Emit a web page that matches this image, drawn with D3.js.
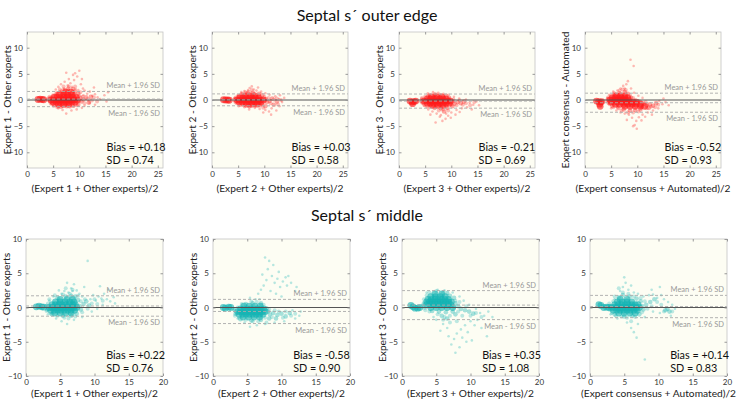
<!DOCTYPE html>
<html><head><meta charset="utf-8">
<script src="https://cdn.jsdelivr.net/npm/d3@7"></script>
<style>body{margin:0;background:#fff;} text{font-family:Lato,"Open Sans",sans-serif;}</style>
</head><body><svg id="c" width="738" height="402"></svg>
<script>
// ---------- data ----------
const rowTitles = ["Septal s\u00B4 outer edge", "Septal s\u00B4 middle"];
const xLabels = ["(Expert 1 + Other experts)/2","(Expert 2 + Other experts)/2","(Expert 3 + Other experts)/2","(Expert consensus + Automated)/2",
                 "(Expert 1 + Other experts)/2","(Expert 2 + Other experts)/2","(Expert 3 + Other experts)/2","(Expert consensus + Automated)/2"];
const yLabels = ["Expert 1 - Other experts","Expert 2 - Other experts","Expert 3 - Other experts","Expert consensus - Automated",
                 "Expert 1 - Other experts","Expert 2 - Other experts","Expert 3 - Other experts",""];
const biasValues = [0.18, 0.03, -0.21, -0.52, 0.22, -0.58, 0.35, 0.14];
const sdValues   = [0.74, 0.58, 0.69, 0.93, 0.76, 0.90, 1.08, 0.83];
const xTicksTop = [0,5,10,15,20,25];
const yTicksTop = [-10,-5,0,5,10];
const xTicksBottom = [0,5,10,15,20];
const yTicksBottom = [-10,-5,0,5,10];
const xDomainTop = [0,26], yDomainTop = [-13,13];
const xDomainBottom = [0,20], yDomainBottom = [-10,10];

// dense core / halo / medium / sparse points [mean, difference]
const p1Core = [[2.1,0.1],[2.5,0.15],[2.9,0.1],[3.2,0.05],
 [4.6,0],[5.1,0],[5.6,0],[6.1,0],[6.6,0],[7.1,0],[7.6,0],[8.1,0],[8.6,0],[9.1,0],[9.6,0],
 [5.2,0.5],[5.8,0.5],[6.4,0.5],[7.0,0.5],[7.6,0.5],[8.2,0.5],[8.8,0.5],[9.4,0.5],
 [5.0,-0.4],[5.6,-0.4],[6.2,-0.4],[6.8,-0.4],[7.4,-0.4],[8.0,-0.4],[8.6,-0.4],[9.2,-0.4],
 [6.2,1.0],[7.0,1.0],[7.8,1.0],[8.6,1.0],[6.0,-0.8],[7.0,-0.8],[8.0,-0.8],[7.4,1.5],[8.4,1.5]];
const p1Halo = [[4.0,0.0],[4.3,0.6],[4.8,-0.7],[5.0,0.9],[5.6,1.3],[6.0,-1.1],[6.9,1.4],[6.9,-1.2],[7.9,1.8],[8.2,-1.3],[9.0,1.2],[9.5,-1.0],[9.9,0.8],[10.0,-0.2],[10.6,0.6],[11.0,-0.6],[11.6,0.2],[12.4,-0.1],[8.0,2.6],[7.0,2.6],[9.2,2.6],[6.3,2.0],[5.8,-1.4],[10.2,1.5],[12.8,0.5],[13.4,-0.3]];
const p1Mid = [[4.2,0.3],[4.4,-0.3],[10.2,0.4],[10.4,-0.3],[10.8,0.1],[11.3,0.5],[9.8,1.2],[9.2,1.6],[8.8,2.1],[7.9,2.2],[7.2,1.9],[6.6,1.6],[5.8,1.2],[5.2,-1.0],[6.5,-1.3],[7.6,-1.2],[8.8,-1.1],[9.8,-0.9],[11.8,-0.5],[12.2,0.6]];
const p1Sparse = [[5.5,2],[6,2.5],[6.5,3],[7,2.2],[7.2,3.5],[7.8,2.8],[8,4],[8.3,3.2],[8.6,2.5],[9,3.8],[9.3,2.1],[9.6,4.5],[10,5.6],[10.3,3],[10.7,2.2],[11,1.8],[11.5,1.2],[12,1.6],[12.5,0.8],[13,1.1],[13.5,0.5],[14,0.2],[14.8,0.9],[15.2,-0.3],[12,-0.6],[11,-1.1],[10.5,-1.5],[9.5,-1.8],[8.5,-2.0],[7.5,-2.6],[6.8,-1.9],[6,-1.6],[5,-1.2],[4.5,-0.8],[9,-1.2],[11.8,-0.2],[13,-0.9],[10.8,0.9],[9.8,1.9],[8.8,4.8],[7.5,5.2],[6.2,1.6],[5.3,1.0],[4.6,0.6],[12.8,2.4],[15.5,1.5],[9.2,5.1],[10.5,4.0]];

const p2Core = [[2.2,0.05],[2.6,0],[3.0,0],[3.3,-0.05],
 [4.8,0],[5.3,0],[5.8,0],[6.3,0],[6.8,0],[7.3,0],[7.8,0],[8.3,0],[8.8,0],[9.3,0],[9.8,0],
 [5.3,0.4],[5.9,0.4],[6.5,0.4],[7.1,0.4],[7.7,0.4],[8.3,0.4],[8.9,0.4],
 [5.2,-0.4],[5.8,-0.4],[6.4,-0.4],[7.0,-0.4],[7.6,-0.4],[8.2,-0.4],[8.8,-0.4],[9.4,-0.4],
 [6.4,0.8],[7.4,0.8],[8.2,0.8],[6.6,-0.8],[7.6,-0.8],[8.6,-0.8]];
const p2Halo = [[4.2,0.0],[4.5,0.5],[4.7,-0.6],[5.1,0.8],[5.8,1.2],[6.0,-1.0],[7.0,1.6],[7.0,-1.1],[8.0,1.2],[8.2,-1.1],[9.0,0.9],[9.6,-0.8],[10.0,0.6],[10.2,-0.1],[10.8,0.4],[11.2,-0.6],[11.8,0.1],[12.4,0.3],[7.6,1.9],[6.4,1.5],[9.8,-1.5],[12.6,-0.8],[13.2,0.0]];
const p2Mid = [[4.4,0.2],[4.5,-0.3],[10.3,0.2],[10.5,-0.4],[11.0,-0.2],[11.5,0.3],[9.6,0.9],[9.0,1.2],[7.8,1.4],[6.8,1.3],[5.6,1.0],[5.4,-0.9],[7.2,-1.2],[9.2,-1.0],[10.2,-1.2],[11.8,-0.9],[12.4,-0.3]];
const p2Sparse = [[7.2,2.3],[7.6,2.6],[8.0,2.0],[6.9,1.9],[8.5,1.8],[9.4,1.6],[10.2,1.3],[11.0,1.0],[6.2,1.7],[5.6,1.5],[4.9,0.9],[12.1,0.7],[12.8,0.2],[13.4,-0.4],[13.8,0.4],[12.9,-1.2],[11.4,-1.6],[10.9,-2.2],[11.3,-2.8],[10.2,-1.9],[9.1,-1.7],[8.2,-1.5],[7.1,-1.8],[6.2,-1.4],[5.1,-1.2],[9.8,-2.4],[12.3,-2.0],[8.8,2.4],[7.3,1.1],[13.0,0.9]];

const p3Core = [[2.1,-0.2],[2.5,-0.4],[2.9,-0.3],[3.2,-0.2],[2.6,-0.7],
 [4.8,-0.2],[5.3,-0.2],[5.8,-0.2],[6.3,-0.2],[6.8,-0.2],[7.3,-0.2],[7.8,-0.2],[8.3,-0.2],[8.8,-0.2],[9.3,-0.2],[9.8,-0.2],
 [5.4,0.2],[6.0,0.2],[6.6,0.2],[7.2,0.2],[7.8,0.2],[8.4,0.2],[9.0,0.2],
 [5.4,-0.6],[6.0,-0.6],[6.6,-0.6],[7.2,-0.6],[7.8,-0.6],[8.4,-0.6],[9.0,-0.6],[9.6,-0.6],
 [6.4,-1.0],[7.4,-1.0],[8.4,-1.0],[6.2,0.6],[7.2,0.6],[8.2,0.6]];
const p3Halo = [[4.2,-0.3],[4.4,0.4],[4.8,-0.9],[5.0,0.6],[5.8,1.0],[6.0,-1.2],[7.0,1.1],[7.0,-1.4],[7.8,1.0],[8.0,-1.3],[9.0,-1.2],[9.6,0.2],[10.0,-0.9],[10.4,0.1],[11.0,-1.0],[11.6,-0.1],[12.2,-0.9],[12.8,-0.6],[8.4,-1.8],[7.6,-2.0],[9.4,-2.0],[13.6,-1.0],[14.4,-0.4]];
const p3Mid = [[4.4,0.1],[4.5,-0.5],[10.3,-0.3],[10.6,-0.7],[11.2,-0.4],[11.8,-0.6],[12.4,-0.3],[9.6,0.4],[9.0,0.8],[6.8,1.0],[5.6,0.7],[5.4,-1.2],[6.8,-1.5],[8.0,-1.6],[9.2,-1.5],[10.2,-1.2],[8.6,-2.2]];
const p3Sparse = [[5.5,1.3],[6.5,1.5],[7.5,1.4],[8.5,1.2],[9.5,1.0],[10.5,0.6],[11.5,0.3],[12.8,0.1],[13.5,-0.5],[14.2,-0.9],[14.8,-0.3],[15.3,-1.0],[13.0,-1.4],[12.0,-1.6],[11.0,-1.9],[10.0,-2.4],[9.4,-3.0],[8.9,-3.6],[8.3,-4.0],[7.8,-3.2],[7.2,-2.6],[6.4,-2.2],[5.6,-1.8],[4.8,-1.1],[9.9,-3.4],[8.0,-2.9],[10.8,-2.8],[7.0,-4.3],[9.0,-2.6],[11.6,-2.3],[13.9,-1.8],[6.0,-2.8]];

const p4Core = [[2.2,-0.2],[2.6,-0.3],[3.0,-0.4],[2.8,-0.8],[2.9,-1.2],[3.2,-0.3],
 [4.8,0],[5.3,0],[5.8,0],[6.3,0],[6.8,0],[7.3,0],[7.8,0],[8.3,0],
 [5.2,0.4],[5.8,0.4],[6.4,0.4],[7.0,0.4],[7.6,0.4],[8.2,0.4],
 [5.0,-0.4],[5.6,-0.4],[6.2,-0.4],[6.8,-0.4],[7.4,-0.4],[8.0,-0.4],[8.6,-0.4],[9.2,-0.4],[9.8,-0.4],
 [5.8,-0.8],[6.6,-0.8],[7.4,-0.8],[8.2,-0.8],[9.0,-0.8],[9.8,-0.8],[10.6,-0.8],
 [6.0,0.8],[6.8,0.8],[7.6,0.8],[7.6,-1.2],[8.6,-1.2],[9.6,-1.2],[10.6,-1.2],[11.4,-1.2]];
const p4Halo = [[4.2,-0.1],[4.4,0.5],[4.7,-0.8],[5.0,0.8],[5.6,1.3],[5.4,-1.4],[6.6,1.8],[6.2,-1.3],[7.2,2.0],[7.8,1.9],[8.6,0.9],[9.2,0.4],[9.6,0.0],[10.2,-0.2],[10.8,-1.4],[11.6,-0.4],[11.8,-1.6],[12.6,-1.3],[13.4,-1.4],[14.0,-0.9],[8.2,-2.4],[9.2,-2.4],[10.2,-2.2],[7.0,-2.0]];
const p4Mid = [[4.4,0.2],[4.5,-0.5],[10.6,-0.4],[11.2,-0.7],[11.8,-1.0],[12.4,-0.8],[13.0,-1.1],[12.2,-1.5],[8.8,0.4],[8.2,1.2],[7.6,1.5],[6.6,1.3],[5.6,1.0],[5.2,-1.1],[6.4,-1.5],[7.4,-1.8],[8.6,-2.0],[9.6,-1.9],[10.6,-1.8],[13.6,-0.6]];
const p4Sparse = [[7.6,2.2],[7.9,3.0],[8.2,3.6],[7.3,2.7],[6.8,2.2],[6.2,1.8],[5.4,1.6],[4.6,1.0],[8.8,2.2],[9.4,1.4],[10.2,0.8],[11.0,0.4],[8.7,7.7],[9.3,6.5],[14.2,-0.2],[14.8,-0.8],[15.4,-0.4],[16.0,-1.0],[14.0,-1.6],[13.0,-2.0],[12.0,-2.4],[11.0,-2.8],[10.3,-3.3],[9.8,-4.0],[9.5,-4.8],[9.9,-5.5],[9.0,-3.4],[8.4,-2.8],[7.6,-2.6],[6.8,-2.4],[6.0,-2.0],[5.0,-1.6],[10.8,-3.9],[9.2,-5.0],[11.5,-3.2],[8.0,-3.8],[12.8,-2.8],[15.0,0.3]];

const p5Core = [[1.5,0.1],[1.9,0.2],[2.3,0.1],[2.6,0.05],
 [3.4,0],[3.8,0],[4.2,0],[4.6,0],[5.0,0],[5.4,0],[5.8,0],[6.2,0],[6.6,0],[7.0,0],[7.4,0],
 [3.8,0.4],[4.3,0.4],[4.8,0.4],[5.3,0.4],[5.8,0.4],[6.3,0.4],[6.8,0.4],[7.2,0.4],
 [3.6,-0.4],[4.1,-0.4],[4.6,-0.4],[5.1,-0.4],[5.6,-0.4],[6.1,-0.4],[6.6,-0.4],[7.1,-0.4],
 [4.3,0.8],[5.0,0.8],[5.7,0.8],[6.4,0.8],[7.0,0.8],[4.2,-0.8],[5.0,-0.8],[5.8,-0.8],[6.6,-0.8],
 [5.0,1.2],[6.0,1.2],[6.8,1.2]];
const p5Halo = [[3.0,-0.5],[3.2,0.6],[3.4,1.2],[3.6,-0.9],[4.2,1.8],[4.6,-1.2],[5.4,1.9],[5.6,-1.5],[6.4,2.0],[6.2,-1.6],[7.2,-1.3],[7.6,1.7],[8.0,0.9],[8.2,-0.7],[8.6,1.2],[9.0,-0.2],[9.6,0.6],[10.0,1.2],[10.4,0.5],[11.2,1.0],[6.8,2.6],[5.8,2.8]];
const p5Mid = [[3.0,0.2],[3.1,-0.3],[7.8,0.2],[8.0,-0.3],[8.4,0.5],[7.6,1.1],[7.2,1.6],[6.6,1.7],[5.8,1.6],[4.6,1.4],[3.8,-1.0],[5.4,-1.2],[6.6,-1.2],[7.4,-0.9],[8.8,0.9],[9.2,0.3]];
const p5Sparse = [[6.2,2.2],[6.6,2.8],[7.0,3.4],[6.8,2.4],[5.6,2.4],[5.2,2.0],[7.4,2.5],[7.8,2.0],[8.2,1.6],[9.4,1.2],[9.8,1.8],[10.2,1.0],[10.6,1.6],[11.0,1.3],[11.4,2.0],[11.8,1.2],[12.3,0.9],[12.8,1.5],[13.0,0.6],[9.0,6.8],[8.5,3.0],[6.0,3.6],[4.8,2.5],[4.0,1.6],[3.4,1.0],[3.2,-1.0],[4.4,-1.6],[5.2,-2.0],[6.0,-2.4],[7.0,-1.8],[8.2,-1.4],[9.6,-0.6],[10.4,-0.2],[11.2,0.4],[12.0,2.6],[10.8,3.1]];

const p6Core = [[1.5,0],[1.8,-0.1],[2.3,0.05],[2.6,0],
 [3.6,-0.6],[4.0,-0.6],[4.4,-0.6],[4.8,-0.6],[5.2,-0.6],[5.6,-0.6],[6.0,-0.6],[6.4,-0.6],[6.8,-0.6],[7.2,-0.6],[7.6,-0.6],
 [4.0,-0.2],[4.5,-0.2],[5.0,-0.2],[5.5,-0.2],[6.0,-0.2],[6.5,-0.2],[7.0,-0.2],[7.4,-0.2],
 [3.8,-1.0],[4.3,-1.0],[4.8,-1.0],[5.3,-1.0],[5.8,-1.0],[6.3,-1.0],[6.8,-1.0],[7.3,-1.0],
 [4.5,0.2],[5.3,0.2],[6.1,0.2],[6.9,0.2],[4.4,-1.4],[5.2,-1.4],[6.0,-1.4],[6.8,-1.4]];
const p6Halo = [[3.0,-0.2],[3.2,-1.2],[3.6,0.0],[3.8,-1.5],[4.2,0.5],[4.8,-1.8],[5.6,0.9],[5.8,-2.0],[6.4,0.8],[6.6,-2.0],[7.4,0.4],[7.6,-1.5],[8.2,-0.3],[8.6,-1.4],[9.0,-0.4],[9.6,-0.6],[10.2,-1.5],[10.6,-0.6],[11.4,-1.2],[12.0,-0.9],[7.8,-2.2]];
const p6Mid = [[3.2,-0.4],[3.3,-0.9],[8.0,-0.6],[8.3,-1.0],[8.8,-0.8],[9.4,-1.1],[10.0,-0.9],[7.8,-0.1],[7.0,0.6],[5.8,0.6],[4.8,0.5],[4.0,-1.7],[5.6,-1.9],[7.0,-1.8],[8.2,-1.6],[9.2,-1.6],[10.6,-1.3],[11.2,-0.8]];
const p6Sparse = [[6.2,1.2],[6.6,2.0],[7.0,2.6],[7.4,3.2],[7.8,4.0],[8.0,5.6],[8.2,6.8],[7.6,7.3],[8.6,4.6],[9.0,3.6],[9.4,4.2],[9.8,3.0],[10.2,3.8],[10.6,4.4],[11.0,4.6],[10.8,3.2],[11.4,3.6],[12.0,2.4],[12.2,3.0],[6.8,1.2],[8.4,2.4],[9.2,2.0],[10.0,1.6],[5.4,1.4],[8.8,6.2],[12.6,-1.2],[12.0,-1.6],[11.6,-0.4],[12.8,-0.6],[10.4,-2.0],[9.0,-2.2],[7.6,-2.4],[6.4,-2.6],[5.4,-2.8],[4.6,-2.2],[3.6,-1.6],[7.2,4.8],[9.6,5.2]];

const p7Core = [[1.3,0.3],[1.6,0.1],[1.9,-0.1],[2.3,-0.1],[2.6,0],
 [3.6,0.8],[4.0,0.8],[4.4,0.8],[4.8,0.8],[5.2,0.8],[5.6,0.8],[6.0,0.8],[6.4,0.8],[6.8,0.8],[7.2,0.8],
 [3.8,1.2],[4.3,1.2],[4.8,1.2],[5.3,1.2],[5.8,1.2],[6.3,1.2],[6.8,1.2],
 [3.6,0.4],[4.1,0.4],[4.6,0.4],[5.1,0.4],[5.6,0.4],[6.1,0.4],[6.6,0.4],[7.1,0.4],
 [4.2,1.6],[4.9,1.6],[5.6,1.6],[6.3,1.6],[4.2,0],[5.0,0],[5.8,0],[6.6,0],[7.4,0],[4.8,2.0],[5.8,2.0]];
const p7Halo = [[3.0,0.3],[3.2,1.2],[3.4,-0.4],[3.6,1.8],[4.0,2.2],[4.0,-0.6],[5.0,2.4],[5.2,-1.0],[6.0,2.2],[6.2,-1.4],[7.0,-1.2],[7.6,0.0],[7.8,1.0],[8.2,-0.6],[8.4,0.8],[8.8,-1.2],[9.4,0.2],[10.0,-1.2],[10.8,-0.8],[7.0,-2.2],[6.0,-1.8],[8.0,-2.0],[11.6,-1.4]];
const p7Mid = [[3.2,0.6],[3.3,0],[7.8,0.6],[8.2,0.2],[8.6,-0.2],[9.2,-0.4],[7.6,1.4],[7.0,1.7],[6.6,2.1],[4.4,-0.5],[5.4,-0.6],[6.4,-0.7],[7.4,-0.6],[5.8,-1.2],[6.6,-1.6],[7.8,-1.0],[9.8,-0.6],[10.4,-0.9]];
const p7Sparse = [[3.6,2.2],[5.2,2.6],[6.2,2.5],[7.4,2.2],[8.4,1.6],[9.0,1.0],[9.8,0.4],[10.8,-0.2],[11.4,-0.8],[12.0,-1.2],[12.6,-0.6],[13.2,-1.4],[11.0,-1.8],[10.0,-2.0],[9.2,-2.6],[8.6,-3.2],[8.0,-3.8],[7.6,-4.6],[7.2,-5.4],[8.4,-5.8],[7.8,-6.6],[6.6,-3.0],[6.0,-2.4],[5.0,-1.8],[4.6,-1.4],[9.6,-3.6],[10.6,-2.6],[11.6,-3.0],[12.4,-4.2],[8.8,-4.4],[6.8,-4.2],[9.4,-5.0],[5.6,-3.4],[10.2,-4.8]];

const p8Core = [[1.3,0.4],[1.6,0.3],[2.0,0],[2.4,0.05],[2.7,0],
 [3.2,0],[3.6,0],[4.0,0],[4.4,0],[4.8,0],[5.2,0],[5.6,0],[6.0,0],[6.4,0],[6.8,0],[7.2,0],
 [3.6,0.4],[4.1,0.4],[4.6,0.4],[5.1,0.4],[5.6,0.4],[6.1,0.4],[6.6,0.4],[7.0,0.4],
 [3.4,-0.4],[3.9,-0.4],[4.4,-0.4],[4.9,-0.4],[5.4,-0.4],[5.9,-0.4],[6.4,-0.4],[6.9,-0.4],
 [4.0,0.8],[4.7,0.8],[5.4,0.8],[6.1,0.8],[4.2,-0.8],[5.0,-0.8],[5.8,-0.8],[6.6,-0.8],[4.4,1.2],[5.4,1.2]];
const p8Halo = [[2.8,0.6],[3.0,0.0],[3.2,-0.8],[3.4,0.9],[3.6,1.6],[3.8,-1.2],[4.8,2.2],[4.6,-1.3],[5.6,2.0],[5.4,-1.5],[6.4,1.6],[6.6,-1.4],[7.4,1.4],[7.6,-0.7],[8.0,0.9],[8.4,-0.2],[9.0,0.2],[9.8,0.8],[10.4,0.4],[10.8,-0.6],[12.0,-0.6],[6.0,-2.0],[4.2,2.8]];
const p8Mid = [[2.9,0.2],[2.9,-0.3],[7.6,0.2],[7.8,-0.3],[8.2,0.4],[7.4,0.9],[6.8,1.3],[5.8,1.6],[4.8,1.8],[4.2,1.5],[3.6,-1.0],[5.0,-1.3],[6.2,-1.2],[7.2,-1.0],[8.8,0.8],[9.4,1.2],[11.0,-0.4],[11.6,-0.6],[11.3,-0.2]];
const p8Sparse = [[4.4,2.4],[4.8,3.0],[5.2,3.6],[5.6,2.6],[6.0,3.2],[5.0,4.4],[6.4,2.2],[7.0,2.0],[7.8,1.6],[8.6,1.8],[9.2,1.9],[9.8,1.4],[10.4,1.8],[10.8,1.2],[11.4,0.8],[12.0,0.4],[12.4,-0.2],[10.2,3.0],[9.0,2.6],[3.6,1.2],[3.0,-1.0],[4.0,-1.6],[5.4,-2.2],[6.0,-3.0],[6.4,-3.6],[7.0,-2.4],[8.0,-1.4],[8.0,-7.6],[9.2,-0.6],[10.2,-0.8],[6.8,-4.4],[11.8,-1.2]];

const coreSets = [p1Core,p2Core,p3Core,p4Core,p5Core,p6Core,p7Core,p8Core];
const haloSets = [p1Halo,p2Halo,p3Halo,p4Halo,p5Halo,p6Halo,p7Halo,p8Halo];
const midSets = [p1Mid,p2Mid,p3Mid,p4Mid,p5Mid,p6Mid,p7Mid,p8Mid];
const sparseSets = [p1Sparse,p2Sparse,p3Sparse,p4Sparse,p5Sparse,p6Sparse,p7Sparse,p8Sparse];

// ---------- layout ----------
const svg = d3.select("#c");
const rows = [
  {top:32, h:136, lefts:[27,212,399,585], w:136, xd:xDomainTop, yd:yDomainTop, xt:xTicksTop, yt:yTicksTop, color:"#ff1a1a", titleY:21, xlabY:23.5},
  {top:239, h:137, lefts:[26,213,402,590], w:137, xd:xDomainBottom, yd:yDomainBottom, xt:xTicksBottom, yt:yTicksBottom, color:"#14b3b3", titleY:221, xlabY:21}
];

rows.forEach((r,ri)=>{
  svg.append("text").attr("x",367).attr("y",r.titleY).attr("text-anchor","middle")
    .attr("font-size",16).attr("fill","#111").text(rowTitles[ri]);
});

let clipId = 0;
for (let i=0;i<8;i++){
  const r = rows[Math.floor(i/4)];
  const left = r.lefts[i%4], top = r.top, w = r.w, h = r.h;
  const x = d3.scaleLinear().domain(r.xd).range([0,w]);
  const y = d3.scaleLinear().domain(r.yd).range([h,0]);
  const g = svg.append("g").attr("transform",`translate(${left},${top})`);
  g.append("rect").attr("width",w).attr("height",h).attr("fill","#fdfdf3");
  const cid = "clip"+(clipId++);
  g.append("clipPath").attr("id",cid).append("rect").attr("width",w).attr("height",h);
  const pg = g.append("g").attr("clip-path",`url(#${cid})`);

  const bias = biasValues[i], sd = sdValues[i];
  const up = bias + 1.96*sd, lo = bias - 1.96*sd;

  const layer = (data, rad, op) => pg.append("g").selectAll("circle").data(data).enter().append("circle")
    .attr("cx",d=>x(d[0])).attr("cy",d=>y(d[1])).attr("r",rad)
    .attr("fill",r.color).attr("opacity",op);
  layer(sparseSets[i], 1.3, 0.3);
  layer(haloSets[i], 2.0, 0.28);
  layer(midSets[i], 2.3, 0.38);
  layer(coreSets[i], 3.4, 0.62);

  // lines
  pg.append("line").attr("x1",0).attr("x2",w).attr("y1",y(0)).attr("y2",y(0))
    .attr("stroke","#555").attr("stroke-width",1.1);
  [bias, up, lo].forEach(v=>{
    pg.append("line").attr("x1",0).attr("x2",w).attr("y1",y(v)).attr("y2",y(v))
      .attr("stroke","#aaa").attr("stroke-width",0.9).attr("stroke-dasharray","3,2");
  });
  g.append("text").attr("x",w-3).attr("y",y(up)-3).attr("text-anchor","end")
    .attr("font-size",7.5).attr("fill","#999").text("Mean + 1.96 SD");
  g.append("text").attr("x",w-3).attr("y",y(lo)+9).attr("text-anchor","end")
    .attr("font-size",7.5).attr("fill","#999").text("Mean - 1.96 SD");

  // border
  g.append("rect").attr("width",w).attr("height",h).attr("fill","none").attr("stroke","#c4c4c4").attr("stroke-width",0.8);

  // axes
  const ax = g.append("g").attr("transform",`translate(0,${h})`)
    .call(d3.axisBottom(x).tickValues(r.xt).tickSize(-2.5).tickPadding(3));
  const ay = g.append("g").call(d3.axisLeft(y).tickValues(r.yt).tickSize(-2.5).tickPadding(4));
  const at = g.append("g").call(d3.axisTop(x).tickValues(r.xt).tickSize(-2.5).tickFormat(""));
  const ar = g.append("g").attr("transform",`translate(${w},0)`).call(d3.axisRight(y).tickValues(r.yt).tickSize(-2.5).tickFormat(""));
  [ax,ay,at,ar].forEach(a=>{
    a.select(".domain").remove();
    a.selectAll("line").attr("stroke","#999");
    a.selectAll("text").attr("font-size",8).attr("fill","#333").attr("font-family","Lato, sans-serif");
  });

  // labels
  g.append("text").attr("x",w/2).attr("y",h+r.xlabY).attr("text-anchor","middle")
    .attr("font-size",10.2).attr("fill","#222").text(xLabels[i]);
  if (yLabels[i]) {
    g.append("text").attr("transform",`translate(-16,${h/2}) rotate(-90)`).attr("text-anchor","middle")
      .attr("font-size",10.2).attr("fill","#222").text(yLabels[i]);
  }
  const fmt = v => (v>=0?"+":"") + v.toFixed(2);
  g.append("text").attr("x",w*0.585).attr("y",h-17).attr("font-size",10.8).attr("fill","#111").text("Bias = "+fmt(bias));
  g.append("text").attr("x",w*0.585).attr("y",h-4).attr("font-size",10.8).attr("fill","#111").text("SD = "+sd.toFixed(2));
}
</script></body></html>
